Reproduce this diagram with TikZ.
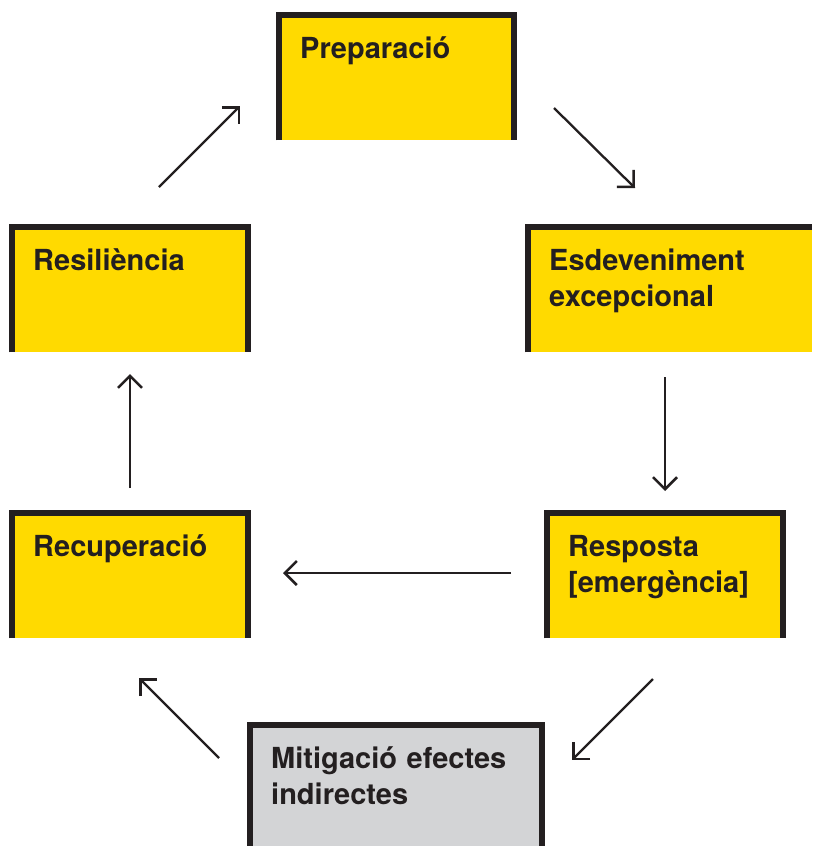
\documentclass[tikz,border=0pt]{standalone}
\usepackage{fontspec}
\setmainfont{TeX Gyre Heros}
\usetikzlibrary{arrows.meta}
\definecolor{stageyellow}{HTML}{FFDA00}
\definecolor{stagegray}{HTML}{D3D4D6}
\definecolor{inkdark}{HTML}{231F20}
\tikzset{
  stagebox/.style={fill=#1, draw=none, inner sep=0pt, anchor=north west},
  frame/.style={draw=inkdark, line width=6pt},
  stagetext/.style={anchor=base west, inner sep=0pt, text width=260pt, align=left,
    text=inkdark, font=\fontsize{29}{36}\selectfont\bfseries},
  cycle/.style={draw=inkdark, line width=2.3pt,
    -{Straight Barb[length=12pt,width=24pt,line width=2.5pt]}}
}
% box frame: left, top and right side, no bottom
\newcommand\stageframe[1]{\draw[frame] (#1.south west) -- (#1.north west) -- (#1.north east) -- (#1.south east);}
\begin{document}
\begin{tikzpicture}[x=1pt, y=-1pt]
	\useasboundingbox (0,0) rectangle (812,846);
	% stages
	\node[stagebox=stageyellow, minimum width=235pt, minimum height=125pt] (prep) at (279,15) {};
	\node[stagebox=stageyellow, minimum width=236pt, minimum height=125pt] (resil) at (12,227) {};
	\node[stagebox=stageyellow, minimum width=284pt, minimum height=125pt] (event) at (528,227) {};
	\node[stagebox=stageyellow, minimum width=236pt, minimum height=125pt] (resp) at (547,513) {};
	\node[stagebox=stageyellow, minimum width=236pt, minimum height=125pt] (recup) at (12,513) {};
	\node[stagebox=stagegray, minimum width=292pt, minimum height=121pt] (mitig) at (250,725) {};
	\stageframe{prep}
	\stageframe{resil}
	\stageframe{resp}
	\stageframe{recup}
	\stageframe{mitig}
	\draw[frame] (event.south west) -- (event.north west) -- (event.north east);
	% labels
	\node[stagetext] (prepT) at ([xshift=21pt, yshift=-43pt]prep.north west) {Preparació};
	\node[stagetext] (resilT) at ([xshift=21pt, yshift=-43pt]resil.north west) {Resiliència};
	\node[stagetext] (eventT) at ([xshift=21pt, yshift=-43pt]event.north west) {Esdeveniment\\excepcional};
	\node[stagetext] (respT) at ([xshift=21pt, yshift=-43pt]resp.north west) {Resposta\\{[emergència]}};
	\node[stagetext] (recupT) at ([xshift=21pt, yshift=-43pt]recup.north west) {Recuperació};
	\node[stagetext] (mitigT) at ([xshift=21pt, yshift=-43pt]mitig.north west) {Mitigació efectes\\indirectes};
	% arrow ends
	\coordinate (a1s) at (159,187); \coordinate (a1e) at (240,106);
	\coordinate (a2s) at (554,108); \coordinate (a2e) at (635,188);
	\coordinate (a3s) at (665,377); \coordinate (a3e) at (665,491);
	\coordinate (a4s) at (653,679); \coordinate (a4e) at (572,760);
	\coordinate (a5s) at (511,573); \coordinate (a5e) at (283,573);
	\coordinate (a6s) at (219,758); \coordinate (a6e) at (139,678);
	\coordinate (a7s) at (130,488); \coordinate (a7e) at (130,374);
	\draw[cycle] (a1s) -- (a1e);
	\draw[cycle] (a2s) -- (a2e);
	\draw[cycle] (a3s) -- (a3e);
	\draw[cycle] (a4s) -- (a4e);
	\draw[cycle] (a5s) -- (a5e);
	\draw[cycle] (a6s) -- (a6e);
	\draw[cycle] (a7s) -- (a7e);
\end{tikzpicture}
\end{document}
